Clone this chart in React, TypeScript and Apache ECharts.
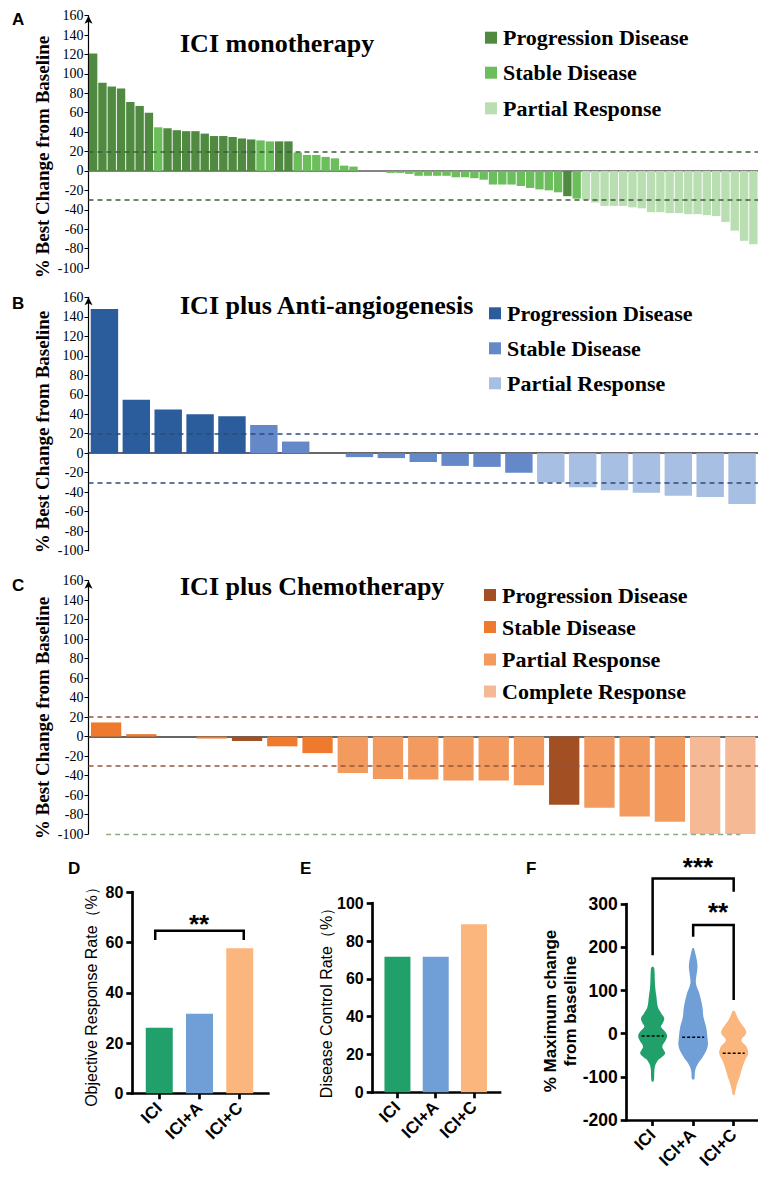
import React, { useEffect, useRef } from "react";
import * as echarts from "echarts";

const SERIF = "Liberation Serif";
const SANS = "Liberation Sans";

// ---------- Panel A: ICI monotherapy ----------
const aValues = [
  121, 91, 87, 85, 71, 67, 60, 45, 44, 42,
  41, 41, 38.5, 36, 36, 35, 33.5, 32.5, 31.5, 30.5,
  30.5, 30.5, 19, 16.5, 16.5, 14.5, 13, 5.5, 4.5, 0,
  0, 0, -2, -2, -3, -5, -5, -5, -5, -6.5,
  -6.5, -7.5, -9, -14, -14, -14, -15.5, -17.5, -19, -20,
  -22, -26, -28.5, -29.5, -32.5, -36, -36, -36, -37.5, -38.5,
  -42.5, -42.5, -43.5, -43.5, -44.5, -44.5, -45.5, -46.5, -52.5, -61.5,
  -72, -75.5,
];
// P = progression, S = stable, R = partial response, C = complete response
const aStatus = "PPPPPPPSPP PPPPPPPPSS PPSSSSSSSS SSSSSSSSSS SSSSSSSSSS SPSRRRRRRR RRRRRRRRRR RR"
  .replace(/ /g, "")
  .split("");

// ---------- Panel B: ICI plus Anti-angiogenesis ----------
const bValues = [148, 55, 45, 40, 38, 29, 12, 0, -4, -5, -9, -13, -14, -20, -30, -35, -38, -40.5, -43.5, -45, -52];
const bStatus = "PPPPPSSSSSSSSSRRRRRRR".split("");

// ---------- Panel C: ICI plus Chemotherapy ----------
const cValues = [14.5, 2.5, 0, -2, -4.5, -10, -17, -37.5, -43.5, -44, -45, -45, -50, -70, -73, -82, -87.5, -100, -100];
const cStatus = "SSSSPSSRRRRRRPRRRCC".split("");

const waterfallTicks = { min: -100, max: 160, interval: 20 };
const pdThreshold = 20;
const prThreshold = -30;
const crThreshold = -100;

const legendABC = ["Progression Disease", "Stable Disease", "Partial Response", "Complete Response"];

// ---------- Panels D, E, F ----------
const groups = ["ICI", "ICI+A", "ICI+C"];
const orrValues = [26.1, 31.7, 57.7];
const dcrValues = [71.7, 71.7, 88.9];
const fMedians = [-5, -8, -45];
// violin outlines: [value, relative density]
const violinICI = [
  [155, 0.05], [150, 0.12], [110, 0.17], [86, 0.26], [62, 0.36], [47, 0.6], [36, 0.8], [25, 0.7],
  [16, 0.57], [5, 0.85], [-5, 1.0], [-15, 0.9], [-30, 0.66], [-45, 0.86], [-55, 0.6], [-61, 0.38],
  [-77, 0.15], [-105, 0.1], [-111, 0.05],
];
const violinICIA = [
  [198, 0.05], [194, 0.09], [171, 0.25], [155, 0.3], [140, 0.25], [117, 0.19], [93, 0.43], [62, 0.64],
  [39, 0.71], [16, 0.89], [-7, 0.98], [-30, 1.0], [-54, 0.66], [-69, 0.34], [-85, 0.14], [-103, 0.1], [-106, 0.05],
];
const violinICIC = [
  [53, 0.05], [51, 0.1], [32, 0.35], [12, 0.77], [1, 0.86], [-15, 0.54], [-30, 0.89], [-46, 1.0],
  [-61, 0.79], [-80, 0.58], [-100, 0.41], [-119, 0.21], [-138, 0.09], [-142, 0.05],
];
const violins = [violinICI, violinICIA, violinICIC];

const aColors: Record<string, string> = { P: "#4F8A40", S: "#6CBD5C", R: "#B9DEB1" };
const bColors: Record<string, string> = { P: "#2B5C9B", S: "#6589C8", R: "#A6BFE2" };
const cColors: Record<string, string> = { P: "#A24F24", S: "#EF7A2D", R: "#F39A5E", C: "#F6B995" };
const groupColors = ["#22A06B", "#6F9FD6", "#FAB67D"];

const topGrids = [
  { left: 88.5, top: 15.7, width: 675, height: 252.3 },
  { left: 88.5, top: 297.3, width: 675, height: 253.4 },
  { left: 88.5, top: 580.7, width: 675, height: 253.3 },
];

function topX(gi: number, n: number) {
  return {
    type: "category",
    gridIndex: gi,
    data: Array.from({ length: n }, (_, i) => String(i + 1)),
    axisLine: { onZero: true, lineStyle: { color: gi === 0 ? "#5a5a5a" : "#333", width: 1.5 } },
    axisTick: { show: false },
    axisLabel: { show: false },
    splitLine: { show: false },
  };
}
function topY(gi: number) {
  return {
    type: "value",
    gridIndex: gi,
    ...waterfallTicks,
    axisLine: {
      show: true,
      onZero: false,
      lineStyle: { color: "#000", width: 1.2 },
      symbol: ["none", "arrow"],
      symbolSize: [6, 8],
    },
    axisTick: { show: true, inside: false, length: 4, lineStyle: { color: "#000", width: 1 } },
    axisLabel: { color: "#000", fontFamily: SERIF, fontSize: 14, margin: 5 },
    splitLine: { show: false },
  };
}

function waterfall(gi: number, values: number[], status: string[], colors: Record<string, string>, gap: string, dash: string, extra?: any[]) {
  const lineData: any[] = [{ yAxis: pdThreshold }, { yAxis: prThreshold }];
  if (extra) lineData.push(...extra);
  return {
    type: "bar",
    xAxisIndex: gi,
    yAxisIndex: gi,
    barCategoryGap: gap,
    data: values.map((v, i) => ({ value: v, itemStyle: { color: colors[status[i]] } })),
    markLine: {
      silent: true,
      symbol: "none",
      label: { show: false },
      lineStyle: { type: [5, 4], color: dash, width: 1.5 },
      data: lineData,
    },
  };
}

function smallY(gi: number, min: number, max: number, interval: number, fs: number) {
  return {
    type: "value",
    gridIndex: gi,
    min,
    max,
    interval,
    axisLine: { show: true, onZero: false, lineStyle: { color: "#000", width: 2.7, cap: "square" } },
    axisTick: { show: true, inside: false, length: 6, lineStyle: { color: "#000", width: 2.7 } },
    axisLabel: { color: "#000", fontFamily: SANS, fontWeight: "bold", fontSize: fs, margin: 9 },
    splitLine: { show: false },
  };
}
function smallX(gi: number, min: number, max: number) {
  return {
    type: "value",
    gridIndex: gi,
    min,
    max,
    axisLine: { show: true, onZero: false, lineStyle: { color: "#000", width: 2.7, cap: "square" } },
    axisTick: { show: true, inside: false, length: 6, customValues: [0, 1, 2], lineStyle: { color: "#000", width: 2.7 } },
    axisLabel: {
      customValues: [0, 1, 2],
      formatter: (v: number) => groups[Math.round(v)] || "",
      rotate: 45,
      color: "#000",
      fontFamily: SANS,
      fontWeight: "bold",
      fontSize: 17,
      margin: 12,
    },
    splitLine: { show: false },
  };
}

function bracket(gi: number, pts: number[][]) {
  return {
    type: "line",
    xAxisIndex: gi,
    yAxisIndex: gi,
    data: pts,
    clip: false,
    silent: true,
    symbol: "none",
    lineStyle: { color: "#000", width: 2.5, join: "miter" },
    z: 5,
  };
}

function text(x: number, y: number, t: string, family: string, size: number, weight: string, align = "left", rot = 0, extra: any = {}) {
  return {
    type: "text",
    x,
    y,
    rotation: rot,
    silent: true,
    style: {
      text: t,
      fontFamily: family,
      fontSize: size,
      fontWeight: weight,
      fill: "#000",
      textAlign: align,
      textVerticalAlign: "middle",
      ...extra,
    },
  };
}

function legend(x: number, tx: number, rows: number[], colors: string[], n: number) {
  const out: any[] = [];
  for (let i = 0; i < n; i++) {
    out.push({ type: "rect", shape: { x, y: rows[i] - 6, width: 12, height: 12 }, style: { fill: colors[i] }, silent: true });
    out.push(text(tx, rows[i], legendABC[i], SERIF, 22, "bold"));
  }
  return out;
}

export default function App() {
  const ref = useRef<HTMLDivElement>(null);
  useEffect(() => {
    if (!ref.current) return;
    const chart = echarts.init(ref.current, null, { renderer: "svg" });
    const R90 = Math.PI / 2;
    const graphic: any[] = [
      text(12, 19, "A", SANS, 17, "bold"),
      text(12, 303, "B", SANS, 17, "bold"),
      text(12, 585, "C", SANS, 17, "bold"),
      text(68, 868, "D", SANS, 17, "bold"),
      text(300, 868, "E", SANS, 17, "bold"),
      text(526, 868, "F", SANS, 17, "bold"),
      text(42, 157, "% Best Change from Baseline", SERIF, 19, "bold", "center", R90),
      text(42, 432, "% Best Change from Baseline", SERIF, 19, "bold", "center", R90),
      text(42, 718, "% Best Change from Baseline", SERIF, 19, "bold", "center", R90),
      text(180, 43, "ICI monotherapy", SERIF, 26, "bold"),
      text(180, 305, "ICI plus Anti-angiogenesis", SERIF, 26, "bold"),
      text(180, 586, "ICI plus Chemotherapy", SERIF, 26, "bold"),
      ...legend(485, 503, [37.7, 72.7, 108.3], [aColors.P, aColors.S, aColors.R], 3),
      ...legend(489, 507, [313.3, 348.3, 383.3], [bColors.P, bColors.S, bColors.R], 3),
      ...legend(484, 502, [595, 627, 659.5, 691.5], [cColors.P, cColors.S, cColors.R, cColors.C], 4),
      text(91, 993, "Objective Response Rate（%）", SANS, 16, "normal", "center", R90),
      text(326, 999, "Disease Control Rate（%）", SANS, 16, "normal", "center", R90),
      text(560, 1011, "% Maximum change\nfrom baseline", SANS, 17, "bold", "center", R90, { lineHeight: 20 }),
      text(199, 924, "**", SANS, 26, "bold", "center"),
      text(698, 867, "***", SANS, 26, "bold", "center"),
      text(718, 912, "**", SANS, 26, "bold", "center"),
    ];

    chart.setOption({
      animation: false,
      backgroundColor: "#fff",
      textStyle: { fontFamily: SERIF },
      grid: [
        ...topGrids,
        { left: 132.3, top: 892.3, width: 136, height: 201 },
        { left: 372.7, top: 903.3, width: 127.3, height: 189 },
        { left: 626.7, top: 904.3, width: 140, height: 215.7 },
      ],
      xAxis: [
        topX(0, aValues.length),
        topX(1, bValues.length),
        topX(2, cValues.length),
        smallX(3, -0.67, 2.71),
        smallX(4, -0.647, 2.68),
        smallX(5, -0.64, 2.6),
      ],
      yAxis: [
        topY(0),
        topY(1),
        topY(2),
        smallY(3, 0, 80, 20, 16),
        smallY(4, 0, 100, 20, 16),
        smallY(5, -200, 300, 100, 17.5),
      ],
      series: [
        waterfall(0, aValues, aStatus, aColors, "10%", "#3D5E37"),
        waterfall(1, bValues, bStatus, bColors, "14%", "#2A4B7C"),
        waterfall(2, cValues, cStatus, cColors, "14%", "#955438", [
          [
            { coord: ["1", crThreshold], lineStyle: { color: "#8FA886", type: [5, 4], width: 1.3 } },
            { coord: [String(cValues.length), crThreshold] },
          ],
        ]),
        {
          type: "bar",
          xAxisIndex: 3,
          yAxisIndex: 3,
          barWidth: 27,
          data: orrValues.map((v, i) => ({ value: [i, v], itemStyle: { color: groupColors[i] } })),
        },
        bracket(3, [[-0.1, 61], [-0.1, 64.7], [2.1, 64.7], [2.1, 61]]),
        {
          type: "bar",
          xAxisIndex: 4,
          yAxisIndex: 4,
          barWidth: 26,
          data: dcrValues.map((v, i) => ({ value: [i, v], itemStyle: { color: groupColors[i] } })),
        },
        {
          type: "custom",
          xAxisIndex: 5,
          yAxisIndex: 5,
          data: fMedians.map((m, i) => [i, m]),
          encode: { x: 0, y: 1 },
          renderItem: (params: any, api: any) => {
            const i = api.value(0);
            const prof = violins[i];
            const half = 14.5;
            const left: number[][] = [];
            const right: number[][] = [];
            prof.forEach(([v, d]) => {
              const p = api.coord([i, v]);
              left.push([p[0] - d * half, p[1]]);
              right.push([p[0] + d * half, p[1]]);
            });
            const pts = left.concat(right.reverse());
            const m = api.coord([i, api.value(1)]);
            return {
              type: "group",
              children: [
                { type: "polygon", shape: { points: pts, smooth: 0.35 }, style: { fill: groupColors[i] } },
                {
                  type: "line",
                  shape: { x1: m[0] - 11, y1: m[1], x2: m[0] + 11, y2: m[1] },
                  style: { stroke: "#000", lineWidth: 1.5, lineDash: [3, 2] },
                },
              ],
            };
          },
        },
        bracket(5, [[0, 182], [0, 360], [2, 360], [2, 329]]),
        bracket(5, [[1, 225], [1, 252], [2, 252], [2, 78]]),
      ],
      graphic,
    });
    return () => chart.dispose();
  }, []);
  return <div ref={ref} style={{ position: "absolute", left: 0, top: 0, width: 758, height: 1177 }} />;
}
